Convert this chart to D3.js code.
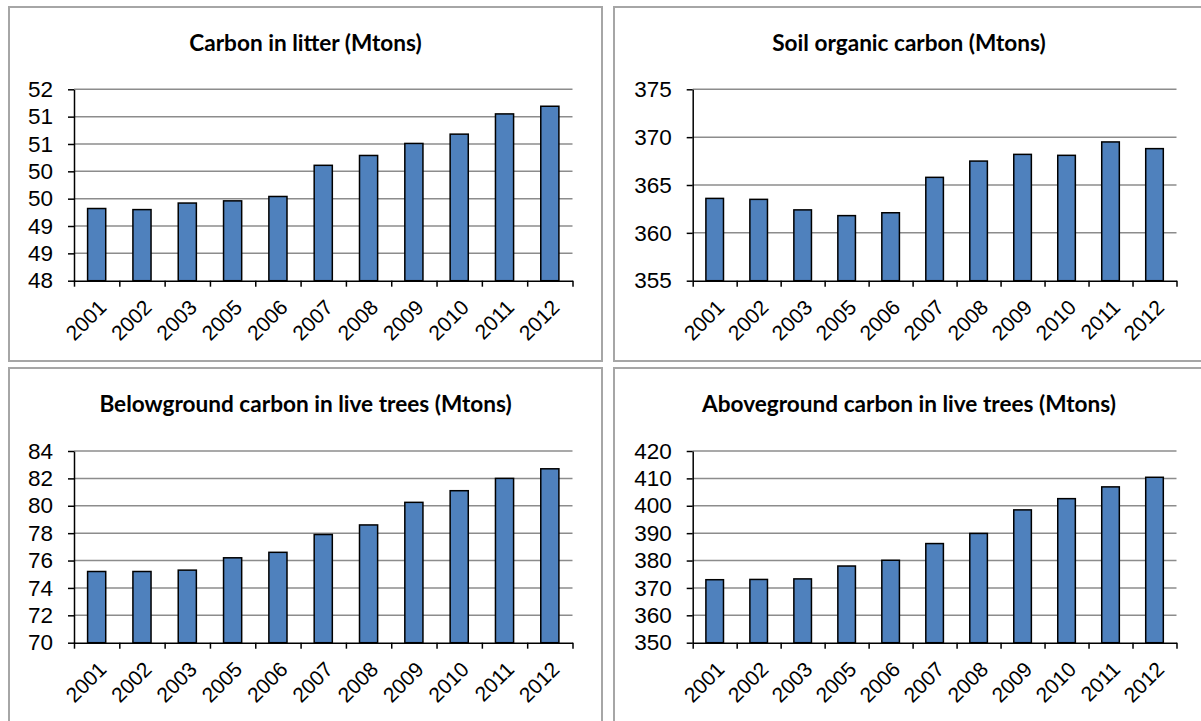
<!DOCTYPE html>
<html><head><meta charset="utf-8">
<script src="https://cdn.jsdelivr.net/npm/d3@7"></script>
<style>body{margin:0;background:#fff}svg{display:block}</style>
</head><body>
<svg id="c" width="1201" height="721"></svg>
<script>
const years = ["2001","2002","2003","2005","2006","2007","2008","2009","2010","2011","2012"];
const litterValues = [49.32, 49.30, 49.42, 49.46, 49.54, 50.11, 50.29, 50.51, 50.68, 51.05, 51.19];
const soilValues   = [363.6, 363.5, 362.4, 361.8, 362.1, 365.8, 367.5, 368.2, 368.1, 369.5, 368.8];
const belowValues  = [75.2, 75.2, 75.3, 76.2, 76.6, 77.9, 78.6, 80.25, 81.1, 82.0, 82.7];
const aboveValues  = [373.0, 373.1, 373.3, 378.0, 380.1, 386.2, 389.9, 398.5, 402.6, 406.9, 410.4];

const litterTicks = [48, 48.5, 49, 49.5, 50, 50.5, 51, 51.5];
const litterTickLabels = ["48","49","49","50","50","51","51","52"];
const soilTicks = [355, 360, 365, 370, 375];
const soilTickLabels = ["355","360","365","370","375"];
const belowTicks = [70, 72, 74, 76, 78, 80, 82, 84];
const belowTickLabels = ["70","72","74","76","78","80","82","84"];
const aboveTicks = [350, 360, 370, 380, 390, 400, 410, 420];
const aboveTickLabels = ["350","360","370","380","390","400","410","420"];

const titles = [
  "Carbon in litter (Mtons)",
  "Soil organic carbon (Mtons)",
  "Belowground carbon in live trees (Mtons)",
  "Aboveground carbon in live trees (Mtons)"
];

const panels = [
  {title: titles[0], values: litterValues, ticks: litterTicks, labels: litterTickLabels,
   box: {x: 9, y: 7, w: 593, h: 354}, plot: {l: 74, t: 89.3, r: 572.5, b: 280.7}},
  {title: titles[1], values: soilValues, ticks: soilTicks, labels: soilTickLabels,
   box: {x: 614, y: 7, w: 592, h: 354}, plot: {l: 692.7, t: 89.3, r: 1176.5, b: 280.7}},
  {title: titles[2], values: belowValues, ticks: belowTicks, labels: belowTickLabels,
   box: {x: 9, y: 368, w: 593, h: 370}, plot: {l: 74, t: 451, r: 572.5, b: 642.7}},
  {title: titles[3], values: aboveValues, ticks: aboveTicks, labels: aboveTickLabels,
   box: {x: 614, y: 368, w: 592, h: 370}, plot: {l: 692.7, t: 451, r: 1176.5, b: 642.7}}
];

const svg = d3.select("#c");

panels.forEach(p => {
  const g = svg.append("g");
  g.append("rect")
    .attr("x", p.box.x).attr("y", p.box.y)
    .attr("width", p.box.w).attr("height", p.box.h)
    .attr("fill", "#fff").attr("stroke", "#a6a6a6").attr("stroke-width", 2);

  g.append("text")
    .attr("x", p.box.x + p.box.w / 2 - (p.box.x > 600 ? 1 : 0))
    .attr("y", p.box.y + 43.5)
    .attr("text-anchor", "middle")
    .attr("font-family", "Lato, 'Open Sans', sans-serif")
    .attr("font-weight", "bold")
    .attr("font-size", 22.6)
    .attr("fill", "#000")
    .text(p.title);

  const y = d3.scaleLinear()
    .domain([p.ticks[0], p.ticks[p.ticks.length - 1]])
    .range([p.plot.b, p.plot.t]);
  const x = d3.scaleBand()
    .domain(years)
    .range([p.plot.l, p.plot.r])
    .paddingInner(0.6).paddingOuter(0.3);
  const xb = d3.scaleLinear().domain([0, years.length]).range([p.plot.l, p.plot.r]);

  // gridlines
  g.append("g")
    .selectAll("line")
    .data(p.ticks.slice(1))
    .join("line")
    .attr("x1", p.plot.l).attr("x2", p.plot.r)
    .attr("y1", d => y(d)).attr("y2", d => y(d))
    .attr("stroke", "#8c8c8c").attr("stroke-width", 1.5);

  // bars
  g.append("g")
    .selectAll("rect")
    .data(p.values)
    .join("rect")
    .attr("x", (d, i) => x(years[i]))
    .attr("width", x.bandwidth())
    .attr("y", d => y(d))
    .attr("height", d => y(p.ticks[0]) - y(d))
    .attr("fill", "#4f81bd")
    .attr("stroke", "#000")
    .attr("stroke-width", 1.5);

  // y axis
  const ya = g.append("g")
    .attr("transform", `translate(${p.plot.l},0)`)
    .call(d3.axisLeft(y).tickValues(p.ticks).tickFormat((d, i) => p.labels[i]).tickSize(6).tickSizeOuter(0).tickPadding(15));
  ya.select(".domain").attr("stroke", "#000").attr("stroke-width", 1.5);
  ya.selectAll(".tick line").attr("stroke", "#000").attr("stroke-width", 1.5);
  ya.selectAll(".tick text")
    .attr("font-family", "'Liberation Sans', Arial, sans-serif")
    .attr("font-size", 22.5).attr("fill", "#000");

  // x axis (ticks at category boundaries)
  const xa = g.append("g")
    .attr("transform", `translate(0,${p.plot.b})`)
    .call(d3.axisBottom(xb).tickValues(d3.range(years.length + 1)).tickFormat("").tickSize(6).tickSizeOuter(0));
  xa.select(".domain").attr("stroke", "#000").attr("stroke-width", 1.5);
  xa.selectAll(".tick line").attr("stroke", "#000").attr("stroke-width", 1.5);

  // x labels rotated
  g.append("g")
    .selectAll("text")
    .data(years)
    .join("text")
    .attr("transform", d => `translate(${x(d) + x.bandwidth() / 2 + 11},${p.plot.b + 28}) rotate(-45)`)
    .attr("text-anchor", "end")
    .attr("font-family", "'Liberation Sans', Arial, sans-serif")
    .attr("font-size", 21)
    .attr("fill", "#000")
    .text(d => d);
});
</script>
</body></html>
